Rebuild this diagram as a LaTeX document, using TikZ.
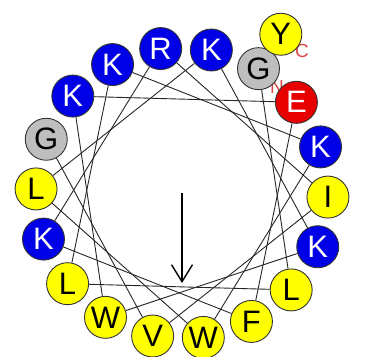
\documentclass[tikz,border=0pt]{standalone}
\usepackage{fontspec}
\setmainfont{Liberation Sans}
\usetikzlibrary{arrows.meta}

\definecolor{kblue}{RGB}{0,0,230}
\definecolor{hyellow}{RGB}{255,255,0}
\definecolor{ggray}{RGB}{190,190,190}
\definecolor{ered}{RGB}{230,0,0}
\definecolor{termred}{RGB}{220,70,70}

\tikzset{
  res/.style={circle,draw=black!80,line width=0.9pt,minimum size=42pt,inner sep=0pt,
              font=\fontsize{31}{31}\selectfont},
  term/.style={text=termred,font=\fontsize{19}{19}\selectfont,inner sep=0pt},
  link/.style={black!85,line width=0.9pt}
}

\begin{document}
\begin{tikzpicture}[x=1pt,y=1pt]

\useasboundingbox (-182,-164) rectangle (194,193);

% terminus labels
\node[term] (nterm) at (95,106) {N};
\node[term] (cterm) at (120,142) {C};

% wheel
\foreach \i/\aa/\fc/\tc in {0/G/ggray/black,1/E/ered/white,2/K/kblue/white,3/I/hyellow/black,
    4/K/kblue/white,5/L/hyellow/black,6/F/hyellow/black,7/W/hyellow/black,8/V/hyellow/black,
    9/W/hyellow/black,10/L/hyellow/black,11/K/kblue/white,12/L/hyellow/black,13/G/ggray/black,
    14/K/kblue/white,15/K/kblue/white,16/R/kblue/white,17/K/kblue/white}
  \node[res,fill=\fc,text=\tc] (r\i) at ({58.4-20*\i}:146) {\aa};

\node[res,fill=hyellow] (r18) at (58.1:187) {Y};

% backbone
\foreach \a in {0,...,16} {
  \pgfmathtruncatemacro{\p}{mod(5*\a,18)}
  \pgfmathtruncatemacro{\q}{mod(5*\a+5,18)}
  \draw[link] (r\p) -- (r\q);
}

% hydrophobic moment
\coordinate (hm0) at (0,0);
\coordinate (hm1) at (0,-90);
\draw[line width=1.4pt,-{Straight Barb[length=17pt,width=21pt]}] (hm0) -- (hm1);

\end{tikzpicture}
\end{document}
